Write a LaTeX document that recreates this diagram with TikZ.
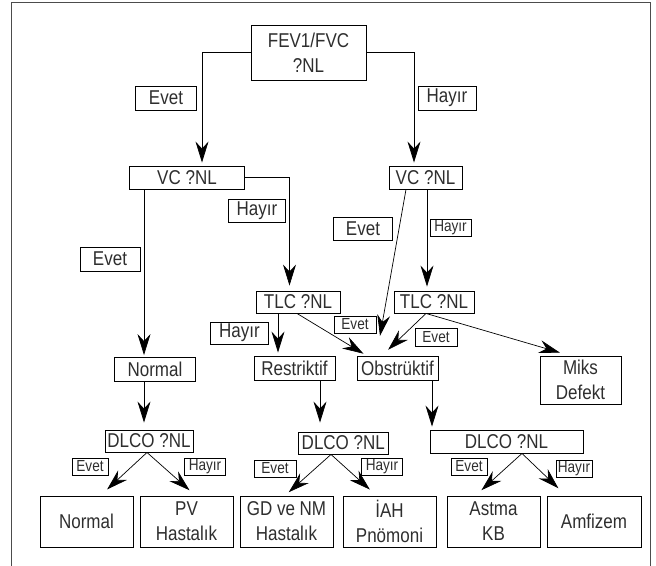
\documentclass[tikz,border=0pt]{standalone}
\usepackage{fontspec}
\newfontfamily\cond[FakeStretch=0.85]{Liberation Sans}
\usetikzlibrary{arrows.meta}
\begin{document}
\begin{tikzpicture}[x=1pt,y=-1pt,
 box/.style={draw, line width=0.9pt, inner sep=0pt, font=\cond\fontsize{20}{25}\selectfont, align=center, text=black!82},
 slab/.style={draw, line width=0.8pt, inner sep=0pt, font=\cond\fontsize{16}{20}\selectfont, text=black!82},
 arr/.style={line width=0.7pt, -{Stealth[length=21pt,width=13pt,inset=7pt]}},
 frame/.style={line width=0.9pt, black!70}
]
\useasboundingbox (0,0) rectangle (656,565);
\draw[frame] (11,570) -- (11,2) -- (650,2) -- (650,570);

% main boxes
\node[box, minimum width=115pt, minimum height=55pt] (fev) at (308.5,52.5) {FEV1/FVC\\?NL};
\node[box, minimum width=115.5pt, minimum height=23pt] (vcL) at (187,177.5) {VC ?NL};
\node[box, minimum width=73pt, minimum height=23pt] (vcR) at (425.5,177.5) {VC ?NL};
\node[box, minimum width=84pt, minimum height=22pt] (tlcL) at (298,302) {TLC ?NL};
\node[box, minimum width=80pt, minimum height=22pt] (tlcR) at (434,302) {TLC ?NL};
\node[box, minimum width=81.5pt, minimum height=24pt] (normM) at (155,369.5) {Normal};
\node[box, minimum width=81pt, minimum height=24pt] (restr) at (294.5,368) {Restriktif};
\node[box, minimum width=81pt, minimum height=24pt] (obstr) at (397.5,368) {Obstrüktif};
\node[box, minimum width=81pt, minimum height=48pt] (miks) at (580.5,380) {Miks\\Defekt};
\node[box, minimum width=88pt, minimum height=22pt] (dlL) at (149,441) {DLCO ?NL};
\node[box, minimum width=89.5pt, minimum height=22pt] (dlM) at (343.3,443) {DLCO ?NL};
\node[box, minimum width=153pt, minimum height=23pt] (dlR) at (506.5,441.5) {DLCO ?NL};
\node[box, minimum width=93pt, minimum height=51pt] (b1) at (86.5,521.5) {Normal};
\node[box, minimum width=93pt, minimum height=51pt] (b2) at (186.5,521.5) {PV\\Hastalık};
\node[box, minimum width=93pt, minimum height=51pt] (b3) at (286.5,521.5) {GD ve NM\\Hastalık};
\node[box, minimum width=93pt, minimum height=51pt] (b4) at (389.5,521.5) {İAH\\Pnömoni};
\node[box, minimum width=93pt, minimum height=51pt] (b5) at (493.5,521.5) {Astma\\KB};
\node[box, minimum width=94pt, minimum height=51pt] (b6) at (594,521.5) {Amfizem};

% labels (large)
\node[box, minimum width=61.5pt, minimum height=24pt] (evA) at (166,98) {Evet};
\node[box, minimum width=58pt, minimum height=24pt] (hyA) at (447,98) {Hayır};
\node[box, minimum width=56.5pt, minimum height=23pt] (hyB) at (257,211) {Hayır};
\node[box, minimum width=60pt, minimum height=24pt] (evB) at (110,259) {Evet};
\node[box, minimum width=59.5pt, minimum height=23pt] (evC) at (363,228.5) {Evet};
\node[box, minimum width=58pt, minimum height=22pt] (hyD) at (239.5,333) {Hayır};
% labels (small)
\node[slab, minimum width=41pt, minimum height=17pt] (hyC) at (450.5,227.5) {Hayır};
\node[slab, minimum width=42pt, minimum height=17pt] (evD) at (355,324.5) {Evet};
\node[slab, minimum width=42pt, minimum height=18pt] (evE) at (436,337) {Evet};
\node[slab, minimum width=36pt, minimum height=17pt] (e1) at (90,466.5) {Evet};
\node[slab, minimum width=40.5pt, minimum height=17pt] (h1) at (205,466.5) {Hayır};
\node[slab, minimum width=42pt, minimum height=17pt] (e2) at (275,468.5) {Evet};
\node[slab, minimum width=41pt, minimum height=17pt] (h2) at (382,466.5) {Hayır};
\node[slab, minimum width=36pt, minimum height=17pt] (e3) at (469,466.5) {Evet};
\node[slab, minimum width=36pt, minimum height=17pt] (h3) at (574,469) {Hayır};

% connectors
\draw[arr, shorten >=3pt] (fev.west) -| ([xshift=15pt]vcL.north);
\draw[arr, shorten >=3pt] (fev.east) -| ([xshift=-11.5pt]vcR.north);
\draw[arr, shorten >=5pt] (vcL.east) -| ([xshift=-8.5pt]tlcL.north);
\draw[arr, shorten >=2pt] ([xshift=-43pt]vcL.south) -- ([xshift=-11pt]normM.north);
\draw[arr, shorten >=20pt] ([xshift=-19.5pt]vcR.south) -- ([xshift=-21pt]obstr.north);
\draw[arr, shorten >=4pt] ([xshift=1.5pt]vcR.south) -- ([xshift=-7pt]tlcR.north);
\draw[arr, shorten >=3pt] ([xshift=-20pt]tlcL.south) -- ([xshift=-16.5pt]restr.north);
\draw[arr, shorten >=3.5pt] ([xshift=-1pt]tlcL.south) -- ([xshift=-31pt]obstr.north);
\draw[arr, shorten >=8.5pt] ([xshift=-8pt]tlcR.south) -- ([xshift=-15.5pt]obstr.north);
\draw[arr, shorten >=10.5pt] ([xshift=-8pt]tlcR.south) -- ([xshift=-10.5pt]miks.north);
\draw[arr, shorten >=7pt] ([xshift=-11pt]normM.south) -- ([xshift=-5pt]dlL.north);
\draw[arr, shorten >=9pt] ([xshift=25.5pt]restr.south) -- ([xshift=-23.3pt]dlM.north);
\draw[arr, shorten >=3pt] ([xshift=34.5pt]obstr.south) -- ([xshift=-74.5pt]dlR.north);
\draw[arr, shorten >=9pt] ([xshift=-2pt]dlL.south) -- ([xshift=14pt]b1.north);
\draw[arr, shorten >=8pt] ([xshift=-2pt]dlL.south) -- ([xshift=9pt]b2.north);
\draw[arr, shorten >=5pt] ([xshift=-12.3pt]dlM.south) -- ([xshift=-1.5pt]b3.north);
\draw[arr, shorten >=9pt] ([xshift=-12.3pt]dlM.south) -- ([xshift=-13pt]b4.north);
\draw[arr, shorten >=8pt] ([xshift=15.5pt]dlR.south) -- ([xshift=-18pt]b5.north);
\draw[arr, shorten >=10.5pt] ([xshift=15.5pt]dlR.south) -- ([xshift=-28pt]b6.north);
\end{tikzpicture}
\end{document}
